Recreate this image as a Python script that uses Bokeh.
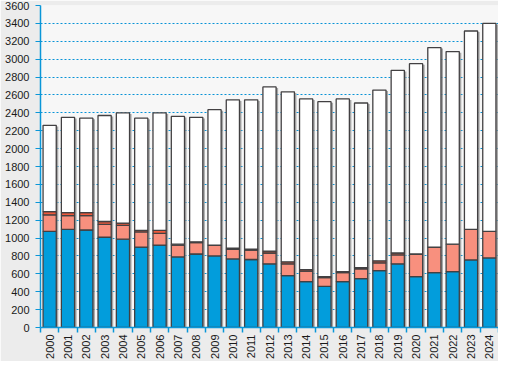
import math
from bokeh.plotting import figure
from bokeh.models import ColumnDataSource, FixedTicker, Range1d
from bokeh.transform import dodge
from bokeh.embed import file_html
from bokeh.resources import INLINE

years = ["2000", "2001", "2002", "2003", "2004", "2005", "2006", "2007", "2008", "2009",
         "2010", "2011", "2012", "2013", "2014", "2015", "2016", "2017", "2018", "2019",
         "2020", "2021", "2022", "2023", "2024"]
blue = [1075, 1097, 1090, 1009, 987, 899, 921, 789, 822, 800,
        767, 760, 712, 580, 514, 459, 514, 547, 635, 712,
        569, 613, 624, 756, 778]
salmon = [185, 154, 160, 143, 154, 169, 132, 132, 128, 121,
          106, 106, 121, 132, 117, 99, 99, 110, 88, 99,
          253, 286, 308, 341, 297]
red = [35, 33, 34, 33, 26, 18, 33, 11, 8, 0,
       15, 11, 22, 22, 15, 11, 11, 11, 22, 22,
       0, 0, 0, 0, 0]
total = [2260, 2350, 2340, 2370, 2400, 2340, 2400, 2360, 2350, 2435,
         2545, 2545, 2690, 2635, 2555, 2525, 2555, 2510, 2655, 2875,
         2950, 3130, 3085, 3315, 3400]
y_ticks = [0, 200, 400, 600, 800, 1000, 1200, 1400, 1600, 1800,
           2000, 2200, 2400, 2600, 2800, 3000, 3200, 3400, 3600]

white = [t - b - s - r for t, b, s, r in zip(total, blue, salmon, red)]
idx = list(range(len(years)))

src = ColumnDataSource(dict(x=idx, blue=blue, salmon=salmon, red=red,
                            white=white, total=total))

AX = "#0a96d8"

p = figure(width=498, height=361, output_backend="svg", toolbar_location=None,
           x_range=Range1d(-0.5, len(years) - 0.5), y_range=Range1d(0, y_ticks[-1]),
           min_border_left=40, min_border_right=0, min_border_top=5, min_border_bottom=0,
           background_fill_color="#f7f7f7", border_fill_color="#ececec",
           outline_line_color=None)

# shadow
p.vbar(x=dodge("x", 0.11, range=p.x_range), top=dodge("total", -12), bottom=0, width=0.72,
       source=src, fill_color="#8c8c8c", fill_alpha=0.75, line_color=None)

p.vbar_stack(["blue", "salmon", "red", "white"], x="x", width=0.72, source=src,
             fill_color=["#029ddc", "#f8907e", "#f0583a", "#ffffff"],
             line_color="#424042", line_width=1.3)

p.xgrid.visible = False
p.ygrid.grid_line_color = "#0893d6"
p.ygrid.grid_line_dash = "2 2"
p.ygrid.grid_line_width = 1.2

p.yaxis.ticker = FixedTicker(ticks=y_ticks)
p.yaxis.axis_line_color = AX
p.yaxis.axis_line_width = 1.5
p.yaxis.major_tick_line_color = AX
p.yaxis.major_tick_out = 5
p.yaxis.major_tick_in = 0
p.yaxis.minor_tick_line_color = None
p.yaxis.major_label_standoff = 6
p.yaxis.major_label_text_font = "Liberation Sans"
p.yaxis.major_label_text_font_size = "11px"
p.yaxis.major_label_text_color = "#1a1a1a"

p.xaxis.ticker = FixedTicker(ticks=idx, minor_ticks=[i - 0.5 for i in idx] + [len(idx) - 0.5])
p.xaxis.major_label_overrides = {i: y for i, y in zip(idx, years)}
p.xaxis.major_label_orientation = math.pi / 2
p.xaxis.axis_line_color = AX
p.xaxis.axis_line_width = 1.5
p.xaxis.major_tick_out = 0
p.xaxis.major_tick_in = 0
p.xaxis.major_tick_line_color = None
p.xaxis.minor_tick_out = 5
p.xaxis.minor_tick_in = 0
p.xaxis.minor_tick_line_color = AX
p.xaxis.minor_tick_line_width = 1.5
p.xaxis.major_label_standoff = 2
p.xaxis.major_label_text_font = "Liberation Sans"
p.xaxis.major_label_text_font_size = "11px"
p.xaxis.major_label_text_color = "#1a1a1a"

open("out.html", "w").write(file_html(p, INLINE))
